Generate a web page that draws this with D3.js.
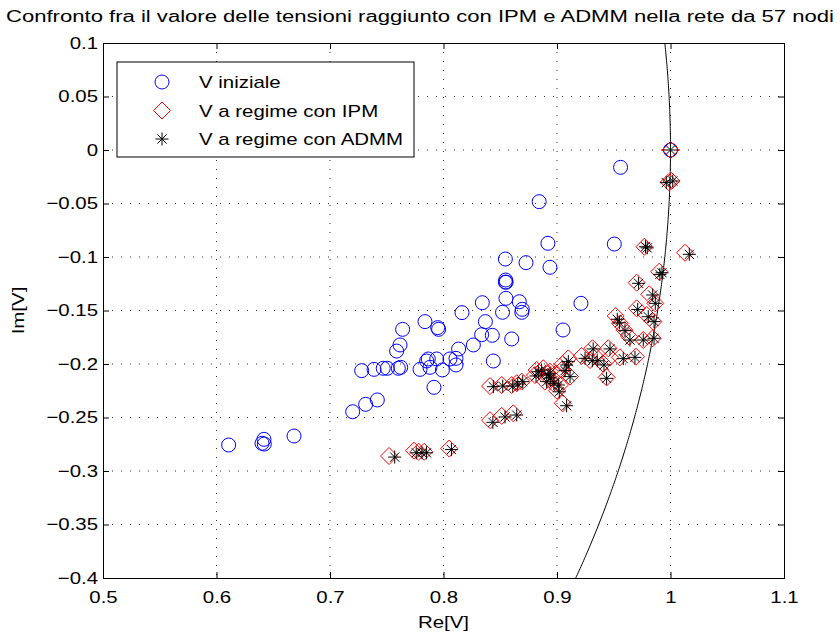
<!DOCTYPE html>
<html>
<head>
<meta charset="utf-8">
<script src="https://cdn.jsdelivr.net/npm/d3@7"></script>
<style>
  body { margin: 0; background: #fff; }
  svg text { font-family: "Liberation Sans", Arial, Helvetica, sans-serif; }
</style>
</head>
<body>
<div class="chart"></div>
<script>
// V iniziale [Re, Im]
var vIniziale = [
    [1.0, 0.0], [0.956, -0.0162], [0.8843, -0.0483], [0.892, -0.0872], [0.9505, -0.0879],
    [0.8545, -0.1019], [0.8727, -0.1053], [0.8938, -0.1096], [0.8548, -0.1215], [0.8552, -0.1235],
    [0.9211, -0.1433], [0.8342, -0.1427], [0.855, -0.1386], [0.8668, -0.1418], [0.8694, -0.1489],
    [0.869, -0.1517], [0.852, -0.1517], [0.8163, -0.152], [0.7837, -0.1604], [0.7949, -0.166],
    [0.7957, -0.1676], [0.764, -0.1676], [0.8369, -0.1604], [0.9053, -0.1682], [0.843, -0.1732],
    [0.8336, -0.1726], [0.8601, -0.1766], [0.8263, -0.1822], [0.7617, -0.1822], [0.7587, -0.1879],
    [0.8133, -0.186], [0.811, -0.1947], [0.8057, -0.1953], [0.794, -0.1953], [0.7866, -0.1953],
    [0.7852, -0.1972], [0.8439, -0.1972], [0.811, -0.2009], [0.7881, -0.2031], [0.799, -0.2056],
    [0.7793, -0.205], [0.7623, -0.2031], [0.7602, -0.204], [0.7505, -0.204], [0.7469, -0.204],
    [0.7916, -0.2218], [0.7279, -0.2062], [0.7388, -0.205], [0.72, -0.2446], [0.7314, -0.2377],
    [0.7417, -0.2336], [0.6107, -0.2757], [0.6418, -0.2704], [0.6401, -0.2741], [0.6421, -0.2748],
    [0.6683, -0.2673], [0.8545, -0.1235]
];

// V a regime con IPM
var vIPM = [
    [1.0, 0.0], [1.001, -0.029], [0.977, -0.0904], [1.0128, -0.096], [0.9901, -0.1137],
    [0.9702, -0.124], [0.9813, -0.1349], [0.9866, -0.1433], [0.9702, -0.148], [0.979, -0.1542],
    [0.9849, -0.1604], [0.9517, -0.1551], [0.9555, -0.162], [0.9593, -0.1682], [0.9637, -0.1745],
    [0.976, -0.1776], [0.9843, -0.176], [0.9696, -0.1932], [0.9555, -0.1937], [0.9452, -0.1853],
    [0.9467, -0.1937], [0.9405, -0.1995], [0.9437, -0.2125], [0.9313, -0.1853], [0.9335, -0.1925],
    [0.9217, -0.1925], [0.9291, -0.1963], [0.91, -0.1947], [0.905, -0.2], [0.9041, -0.2056],
    [0.9115, -0.2118], [0.8993, -0.2087], [0.8938, -0.2072], [0.8909, -0.2087], [0.8879, -0.204],
    [0.882, -0.2056], [0.8894, -0.2165], [0.9026, -0.2196], [0.8967, -0.218], [0.905, -0.2367],
    [0.8806, -0.2103], [0.8689, -0.2165], [0.8645, -0.218], [0.8601, -0.2196], [0.8513, -0.2196],
    [0.841, -0.2206], [0.841, -0.2525], [0.8513, -0.2485], [0.8615, -0.2461], [0.752, -0.286],
    [0.774, -0.281], [0.778, -0.282], [0.783, -0.282], [0.805, -0.279], [0.892, -0.212],
    [0.9, -0.225], [0.9985, -0.03]
];

// V a regime con ADMM
var vADMM = [
    [1.0, 0.0], [1.002, -0.029], [0.978, -0.0904], [1.0166, -0.0975], [0.9925, -0.1147],
    [0.9719, -0.1246], [0.9843, -0.1355], [0.9866, -0.1433], [0.9711, -0.149], [0.9804, -0.1558],
    [0.9855, -0.1604], [0.9531, -0.1582], [0.955, -0.1615], [0.9599, -0.1688], [0.9643, -0.1776],
    [0.976, -0.1776], [0.9855, -0.176], [0.9687, -0.1938], [0.9584, -0.195], [0.9467, -0.1859],
    [0.9414, -0.2009], [0.9437, -0.2134], [0.9319, -0.1859], [0.9355, -0.197], [0.9247, -0.1947],
    [0.9311, -0.1969], [0.91, -0.1978], [0.9085, -0.2009], [0.9071, -0.2062], [0.9115, -0.2118],
    [0.8938, -0.2087], [0.8923, -0.2103], [0.8864, -0.2056], [0.8835, -0.2072], [0.8909, -0.2165],
    [0.9012, -0.2196], [0.8973, -0.218], [0.9085, -0.239], [0.8815, -0.2112], [0.8698, -0.2165],
    [0.8654, -0.2187], [0.861, -0.2206], [0.8522, -0.2206], [0.8439, -0.2212], [0.8435, -0.2545],
    [0.8542, -0.2495], [0.8645, -0.2477], [0.757, -0.287], [0.776, -0.283], [0.781, -0.283],
    [0.785, -0.283], [0.807, -0.280], [0.894, -0.213], [0.902, -0.226], [0.9795, -0.0915],
    [0.9963, -0.0305], [0.9906, -0.1163]
];

var xTicks = [0.5, 0.6, 0.7, 0.8, 0.9, 1.0, 1.1];
var yTicks = [0.1, 0.05, 0, -0.05, -0.1, -0.15, -0.2, -0.25, -0.3, -0.35, -0.4];
var circleRadius = 1;

var title = 'Confronto fra il valore delle tensioni raggiunto con IPM e ADMM nella rete da 57 nodi';
var legendLabels = ['V iniziale', 'V a regime con IPM', 'V a regime con ADMM'];

var margin = { top: 43, right: 56, bottom: 59, left: 103 };
var fullW = 840, fullH = 637;
var width = fullW - margin.left - margin.right;
var height = fullH - margin.top - margin.bottom;
var fontSize = '17px';

var root = d3.select('.chart')
    .append('svg')
    .attr('width', fullW)
    .attr('height', fullH);

var svg = root.append('g')
    .attr('transform', 'translate(' + margin.left + ', ' + margin.top + ')');

var xScale = d3.scaleLinear().domain([0.5, 1.1]).range([0, width]);
var yScale = d3.scaleLinear().domain([-0.4, 0.1]).range([height, 0]);

var fmt = function (d) {
    var s = d3.format('')(+d.toFixed(2));
    return s.replace('-', '\u2212');
};

// grid
svg.append('g')
    .selectAll('line')
    .data(xTicks.slice(1, -1))
    .enter()
    .append('line')
    .attr('x1', d => xScale(d)).attr('x2', d => xScale(d))
    .attr('y1', 0).attr('y2', height)
    .attr('stroke', '#333')
    .attr('stroke-width', 1)
    .attr('stroke-dasharray', '1,8');

svg.append('g')
    .selectAll('line')
    .data(yTicks.slice(1, -1))
    .enter()
    .append('line')
    .attr('y1', d => yScale(d)).attr('y2', d => yScale(d))
    .attr('x1', 0).attr('x2', width)
    .attr('stroke', '#333')
    .attr('stroke-width', 1)
    .attr('stroke-dasharray', '1,8');

// axes (ticks inward on all four sides)
var tickLen = 6;
var xAxis = d3.axisBottom(xScale).tickValues(xTicks).tickSize(-tickLen).tickPadding(13).tickFormat(fmt);
var yAxis = d3.axisLeft(yScale).tickValues(yTicks).tickSize(-tickLen).tickPadding(5).tickFormat(fmt);

svg.append('g')
    .attr('transform', `translate(0, ${height})`)
    .call(xAxis);
svg.append('g').call(yAxis);

svg.append('g')
    .call(d3.axisTop(xScale).tickValues(xTicks).tickSize(-tickLen).tickFormat(''));
svg.append('g')
    .attr('transform', `translate(${width}, 0)`)
    .call(d3.axisRight(yScale).tickValues(yTicks).tickSize(-tickLen).tickFormat(''));

svg.selectAll('.domain').attr('stroke', '#000').attr('stroke-width', 1);
svg.selectAll('.tick line').attr('stroke', '#000');
svg.selectAll('.tick text')
    .attr('font-family', null)
    .attr('font-size', null)
    .style('font-size', fontSize)
    .style('fill', '#000');

// unit circle |V| = 1
svg.append('clipPath').attr('id', 'plotclip')
    .append('rect').attr('width', width).attr('height', height);

var angles = d3.range(-0.45, 0.1501, 0.002);
var arcLine = d3.line()
    .x(a => xScale(circleRadius * Math.cos(a)))
    .y(a => yScale(circleRadius * Math.sin(a)));

svg.append('path')
    .datum(angles)
    .attr('clip-path', 'url(#plotclip)')
    .attr('d', arcLine)
    .attr('fill', 'none')
    .attr('stroke', '#000')
    .attr('stroke-width', 1);

// markers
var marks = svg.append('g').attr('clip-path', 'url(#plotclip)');

function drawCircle(g) {
    g.append('circle').attr('r', 7).attr('fill', 'none')
        .attr('stroke', '#0000ff').attr('stroke-width', 1);
}
function drawDiamond(g) {
    g.append('path').attr('d', 'M0,-8.5L8.5,0L0,8.5L-8.5,0Z').attr('fill', 'none')
        .attr('stroke', '#ff0000').attr('stroke-width', 1);
}
function drawStar(g) {
    var r = 6.5, q = r * 0.7071;
    g.append('path')
        .attr('d', `M${-r},0L${r},0M0,${-r}L0,${r}M${-q},${-q}L${q},${q}M${-q},${q}L${q},${-q}`)
        .attr('fill', 'none')
        .attr('stroke', '#000').attr('stroke-width', 1);
}

marks.selectAll('.vi').data(vIniziale).enter()
    .append('g').attr('class', 'vi')
    .attr('transform', d => `translate(${xScale(d[0])}, ${yScale(d[1])})`)
    .each(function () { drawCircle(d3.select(this)); });

marks.selectAll('.ipm').data(vIPM).enter()
    .append('g').attr('class', 'ipm')
    .attr('transform', d => `translate(${xScale(d[0])}, ${yScale(d[1])})`)
    .each(function () { drawDiamond(d3.select(this)); });

marks.selectAll('.admm').data(vADMM).enter()
    .append('g').attr('class', 'admm')
    .attr('transform', d => `translate(${xScale(d[0])}, ${yScale(d[1])})`)
    .each(function () { drawStar(d3.select(this)); });

// legend
var legend = svg.append('g').attr('transform', 'translate(14, 19)');
legend.append('rect')
    .attr('width', 297).attr('height', 95)
    .attr('fill', '#fff').attr('stroke', '#000').attr('stroke-width', 1);

var drawers = [drawCircle, drawDiamond, drawStar];
legendLabels.forEach(function (lab, i) {
    var row = legend.append('g').attr('transform', `translate(0, ${20 + i * 28.5})`);
    var m = row.append('g').attr('transform', 'translate(45, 0)');
    drawers[i](m);
    row.append('text')
        .attr('x', 82).attr('y', 6)
        .style('font-size', fontSize)
        .text(lab);
});

// axis labels
root.append('text')
    .attr('x', margin.left + width / 2).attr('y', 628)
    .style('text-anchor', 'middle')
    .style('font-size', fontSize)
    .text('Re[V]');

root.append('text')
    .attr('transform', `translate(24, ${margin.top + height / 2}) rotate(-90)`)
    .style('text-anchor', 'middle')
    .style('font-size', fontSize)
    .text('Im[V]');

// the reference font is wider than Liberation Sans: widen every label a bit
root.selectAll('text').each(function () {
    var w = this.getComputedTextLength();
    d3.select(this).attr('textLength', w * 1.2).attr('lengthAdjust', 'spacingAndGlyphs');
});

// title, stretched to its full width in the reference
root.append('text')
    .attr('x', 6).attr('y', 22)
    .style('text-anchor', 'start')
    .style('font-size', '16px')
    .attr('textLength', 828)
    .attr('lengthAdjust', 'spacingAndGlyphs')
    .text(title);
</script>
</body>
</html>
